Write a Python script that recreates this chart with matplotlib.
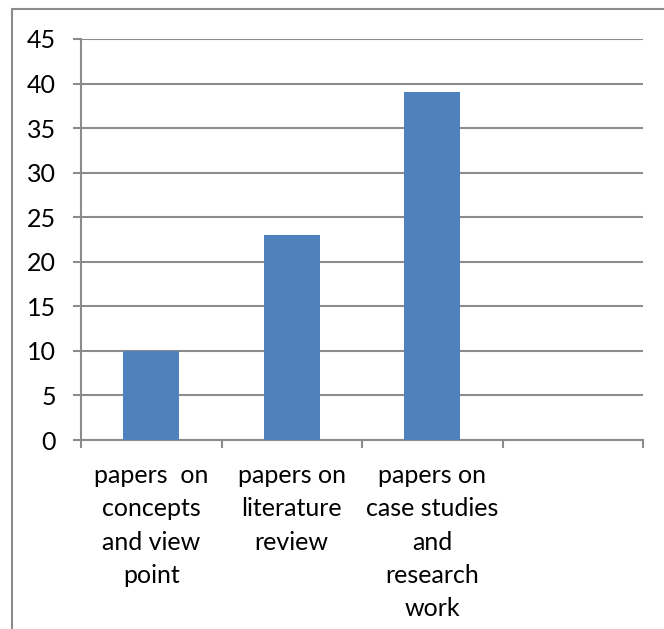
import matplotlib
matplotlib.use("Agg")
import matplotlib.pyplot as plt
from matplotlib.patches import Rectangle

# paper counts per category (last slot left empty)
categories = ["papers  on\nconcepts\nand view\npoint",
              "papers on\nliterature\nreview",
              "papers on\ncase studies\nand\nresearch\nwork",
              ""]
counts = [10, 23, 39, 0]
yticks = [0, 5, 10, 15, 20, 25, 30, 35, 40, 45]

plt.rcParams['font.family'] = ['Lato', 'DejaVu Sans']
grey = "#8c8c8c"

fig = plt.figure(figsize=(6.64, 6.29), dpi=100)
ax = fig.add_axes([81/664, 1 - 440/629, (643 - 81)/664, (440 - 39)/629])

# chart border
fig.patches.append(Rectangle((12/664, -0.1), 1.2, 1 - 9/629 + 0.1, transform=fig.transFigure,
                             fill=False, edgecolor=grey, linewidth=1.5))

x = list(range(len(categories)))
ax.bar(x, counts, width=0.4, color="#4F81BD", zorder=3)

ax.set_xlim(-0.5, len(categories) - 0.5)
ax.set_ylim(0, 45)
ax.set_yticks(yticks)
ax.yaxis.grid(True, color=grey, linewidth=1.5)
ax.set_axisbelow(True)

# boundaries get tick marks, centres get the labels
ax.set_xticks([i - 0.5 for i in range(len(categories) + 1)])
ax.set_xticklabels([])
ax.set_xticks(x, minor=True)
ax.set_xticklabels(categories, minor=True, fontsize=18, linespacing=1.55)
ax.tick_params(axis="x", which="minor", length=0, pad=17)
ax.tick_params(axis="x", which="major", length=6, color=grey, width=1.5)
ax.tick_params(axis="y", length=6, color=grey, width=1.5, labelsize=18, pad=12)

for s in ["top", "right"]:
    ax.spines[s].set_visible(False)
for s in ["left", "bottom"]:
    ax.spines[s].set_color(grey)
    ax.spines[s].set_linewidth(1.5)

fig.savefig("out.png", dpi=100)
